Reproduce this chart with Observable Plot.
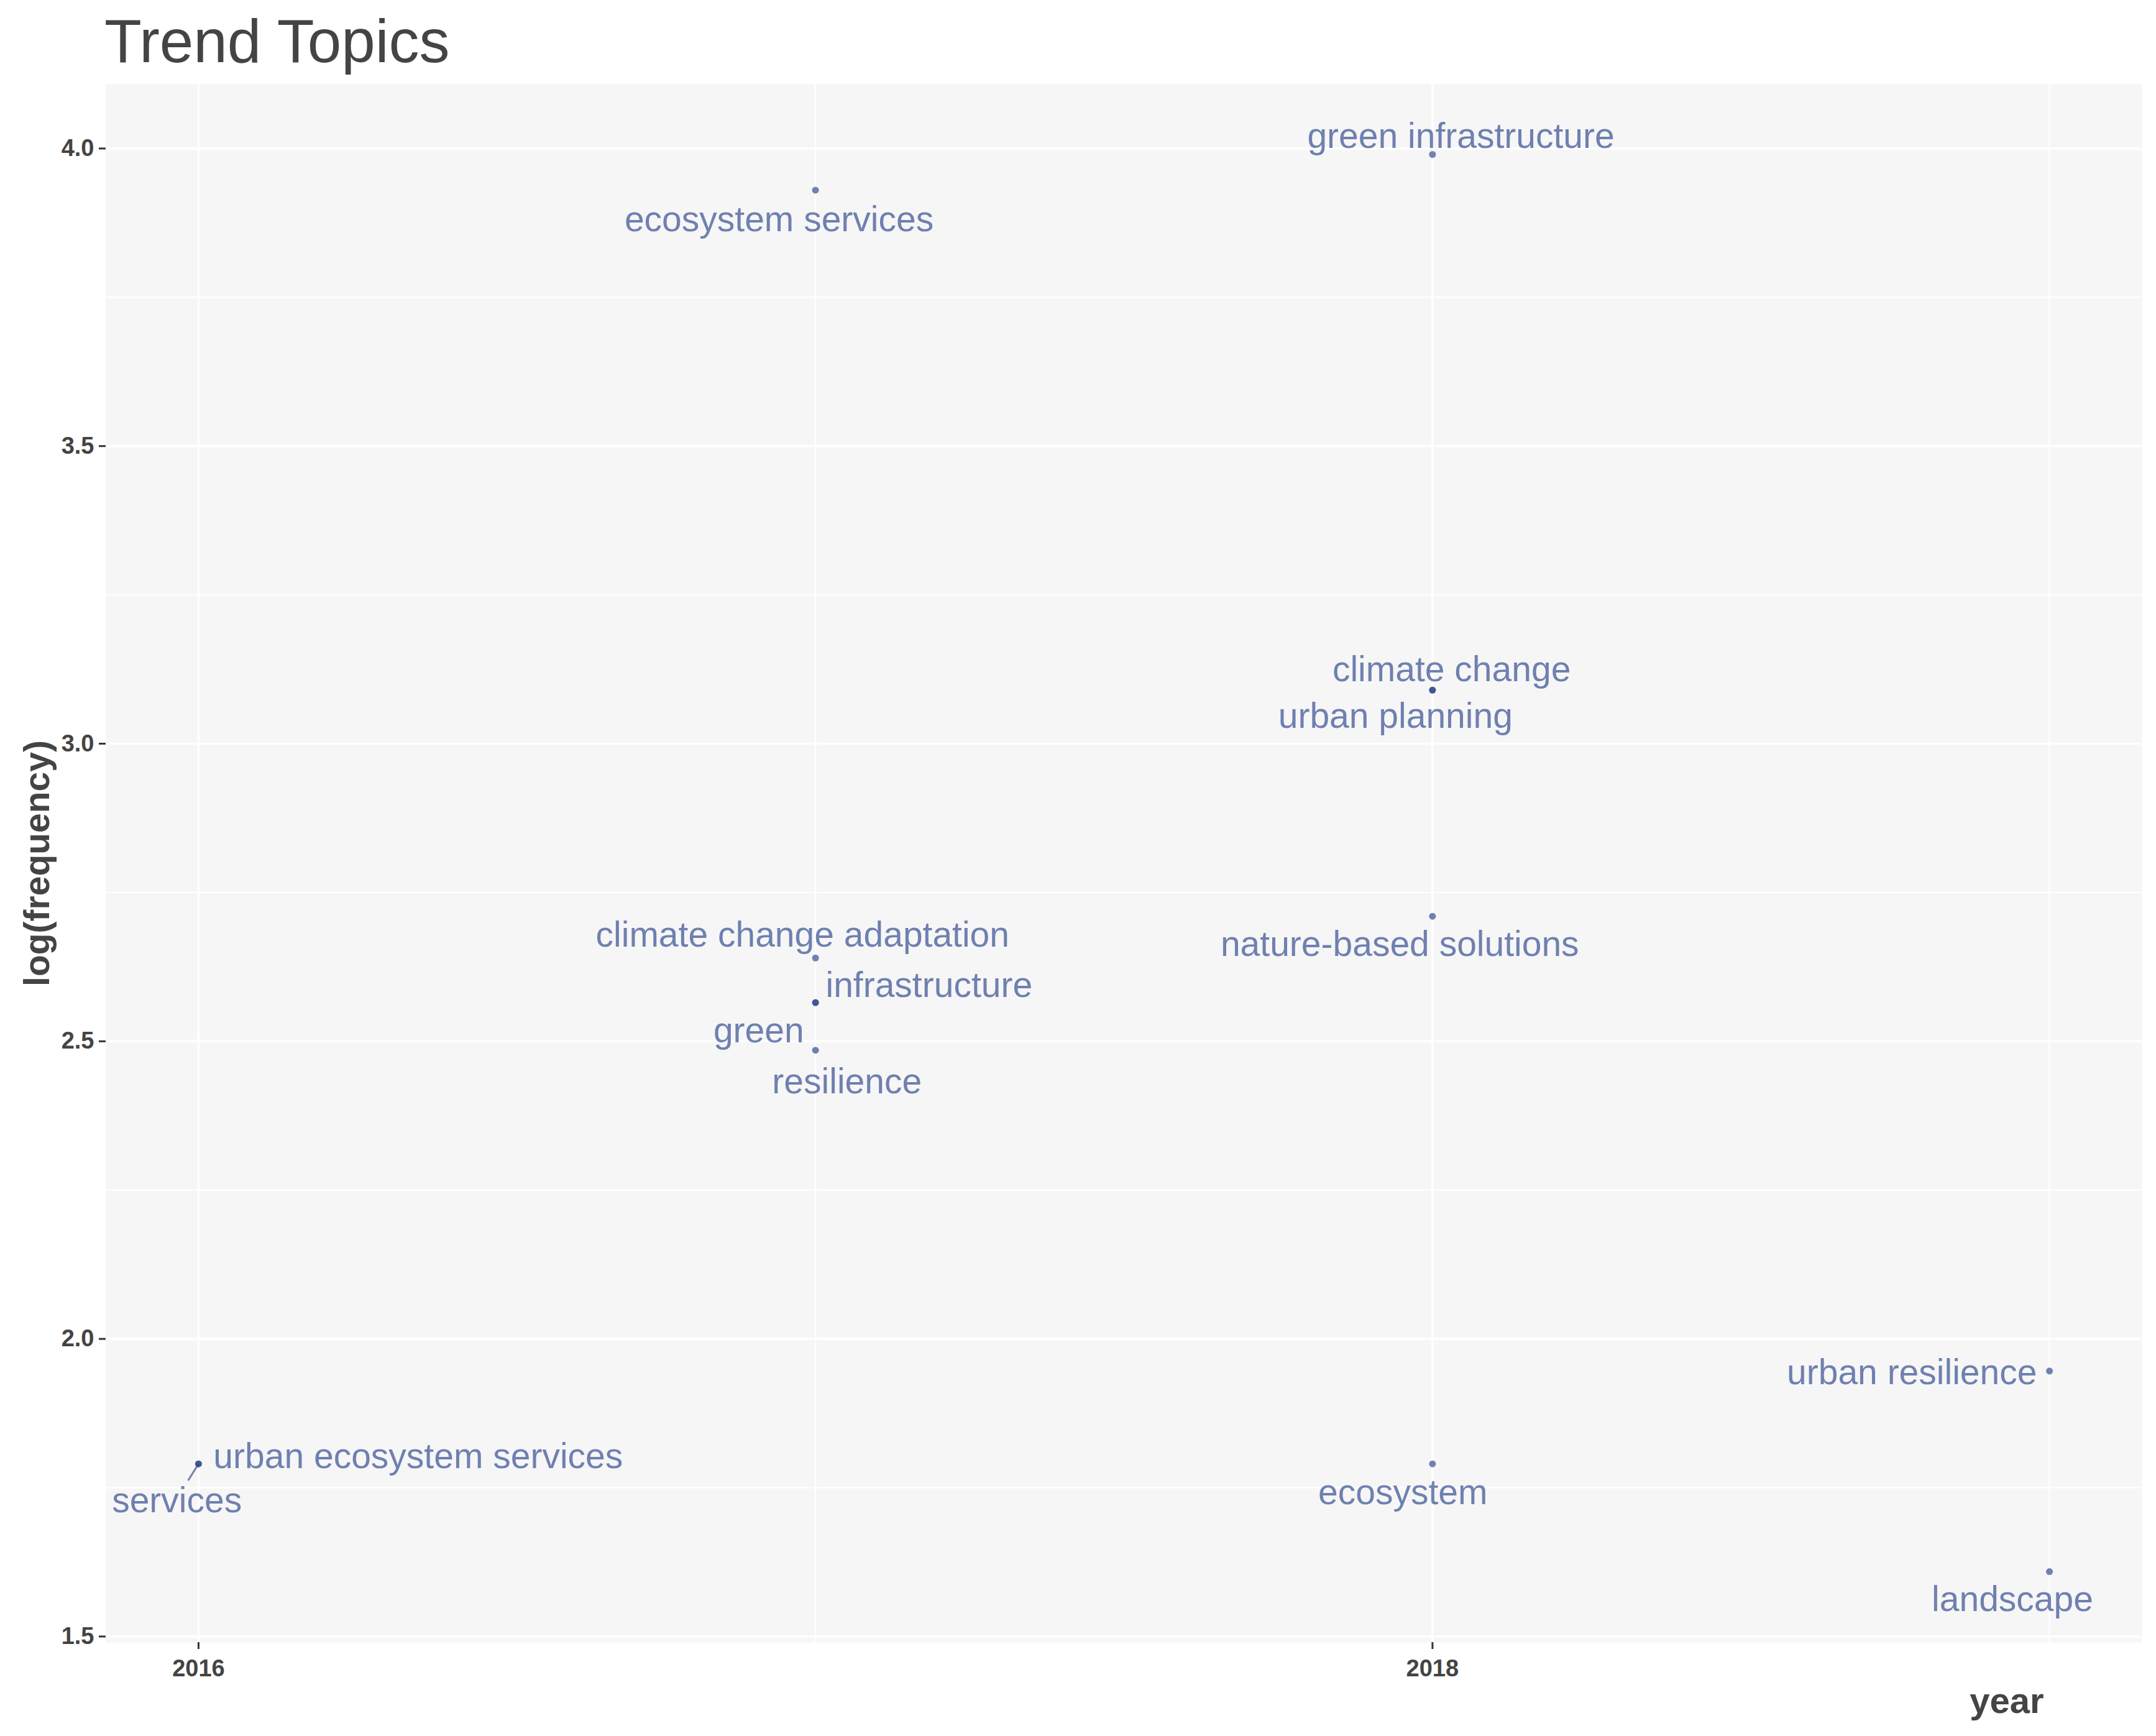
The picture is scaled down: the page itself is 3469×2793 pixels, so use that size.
<!DOCTYPE html>
<html>
<head>
<meta charset="utf-8">
<script src="https://cdn.jsdelivr.net/npm/d3@7"></script>
<script src="https://cdn.jsdelivr.net/npm/@observablehq/plot@0.6"></script>
<style>
  html, body { margin: 0; padding: 0; background: #ffffff; }
  #title {
    height: 120px; box-sizing: border-box; padding-top: 12px; padding-left: 168px;
    font-family: "Liberation Sans", Arial, sans-serif; font-size: 98px; line-height: 108px;
    color: #444444; white-space: nowrap;
  }
  #chart svg { display: block; }
</style>
</head>
<body>
<div id="title">Trend Topics</div>
<div id="chart"></div>
<script>
// ---- data ----
const topics = [
  "green infrastructure", "ecosystem services", "climate change", "urban planning",
  "nature-based solutions", "climate change adaptation", "infrastructure", "green",
  "resilience", "urban ecosystem services", "services", "ecosystem",
  "urban resilience", "landscape"
];
const years = [2018, 2017, 2018, 2018, 2018, 2017, 2017, 2017, 2017, 2016, 2016, 2018, 2019, 2019];
const logFrequency = [3.99, 3.93, 3.09, 3.09, 2.71, 2.64, 2.565, 2.565, 2.485, 1.79, 1.79, 1.79, 1.946, 1.609];

// ---- tick labels ----
const yTicks = [1.5, 2.0, 2.5, 3.0, 3.5, 4.0];
const yMinorTicks = [1.75, 2.25, 2.75, 3.25, 3.75];
const xTicks = [2016, 2018];
const xMinorTicks = [2017, 2019];

// ---- label placement (repel-style nudges, layout only) ----
const labelNudgeYear = [0.046, -0.059, 0.031, -0.060, -0.053, -0.021, 0.184, -0.092, 0.051, 0.356, -0.035, -0.048, -0.223, -0.060];
const labelNudgeLog  = [0.034, -0.046, 0.038, -0.040, -0.043, 0.042, 0.033, -0.043, -0.049, 0.016, -0.058, -0.044, 0.001, -0.043];
const labelConnector = [false, false, false, false, false, false, false, false, false, false, true, false, false, false];

const points = topics.map((t, i) => ({topic: t, year: years[i], value: logFrequency[i]}));
const labels = points.map((p, i) => ({
  ...p,
  lx: p.year + labelNudgeYear[i],
  ly: p.value + labelNudgeLog[i],
  connector: labelConnector[i]
}));
const halfLabel = 0.03;
const links = labels.filter(d => d.connector).map(d => {
  const f = halfLabel / (d.value - d.ly);
  return {x1: d.year, y1: d.value, x2: d.lx + (d.year - d.lx) * f, y2: d.ly + halfLabel};
});

const col = "#27408B";
const font = "'Liberation Sans', Arial, sans-serif";

const chart = Plot.plot({
  width: 3469,
  height: 2673,
  marginLeft: 170,
  marginRight: 23,
  marginTop: 15,
  marginBottom: 151,
  style: {background: "#ffffff", fontFamily: font, overflow: "visible"},
  x: {domain: [2015.85, 2019.15]},
  y: {domain: [1.490, 4.108]},
  marks: [
    Plot.frame({fill: "#f6f6f6", fillOpacity: 1, stroke: null}),
    Plot.gridY(yMinorTicks, {stroke: "#ffffff", strokeOpacity: 1, strokeWidth: 2.2}),
    Plot.gridX(xMinorTicks, {stroke: "#ffffff", strokeOpacity: 1, strokeWidth: 2.2}),
    Plot.gridY(yTicks, {stroke: "#ffffff", strokeOpacity: 1, strokeWidth: 3.5}),
    Plot.gridX(xTicks, {stroke: "#ffffff", strokeOpacity: 1, strokeWidth: 3.5}),
    Plot.axisY(yTicks, {
      tickSize: 11, tickPadding: 8, strokeWidth: 3, stroke: "#333333", fill: "#444444",
      fontSize: 38, fontWeight: "bold", tickFormat: d3.format(".1f"), label: null
    }),
    Plot.axisX(xTicks, {
      tickSize: 11, tickPadding: 17, strokeWidth: 3, stroke: "#333333", fill: "#444444",
      fontSize: 38, fontWeight: "bold", tickFormat: d => `${d}`, label: null
    }),
    Plot.link(links, {x1: "x1", y1: "y1", x2: "x2", y2: "y2", stroke: col, strokeOpacity: 0.65, strokeWidth: 3}),
    Plot.dot(points, {x: "year", y: "value", r: 5.5, fill: col, fillOpacity: 0.65, stroke: null}),
    Plot.text(labels, {
      x: "lx", y: "ly", text: "topic", fill: col, fillOpacity: 0.65, dy: 4,
      fontSize: 57, fontFamily: font, textAnchor: "middle", lineAnchor: "middle"
    }),
    Plot.text(["log(frequency)"], {
      frameAnchor: "left", dx: -110, rotate: -90, text: d => d, textAnchor: "middle",
      fontSize: 57, fontWeight: "bold", fill: "#444444", fontFamily: font
    }),
    Plot.text(["year"], {
      frameAnchor: "bottom-right", dx: -158, dy: 113, text: d => d, textAnchor: "end",
      fontSize: 58, fontWeight: "bold", fill: "#444444", fontFamily: font
    })
  ]
});
document.getElementById("chart").appendChild(chart);
</script>
</body>
</html>
